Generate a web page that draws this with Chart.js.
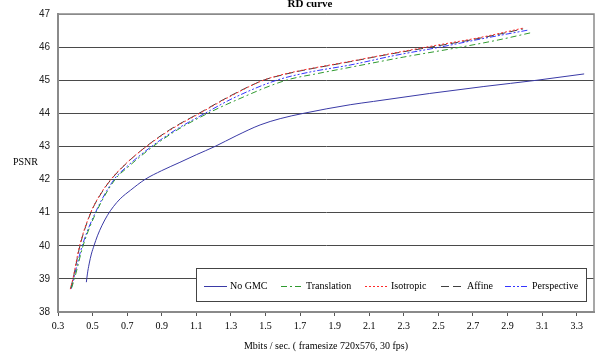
<!DOCTYPE html>
<html>
<head>
<meta charset="utf-8">
<script src="https://cdn.jsdelivr.net/npm/chart.js@4/dist/chart.umd.min.js"></script>
<style>
html,body{margin:0;padding:0;background:#fff;}
#wrap{width:602px;height:355px;position:relative;}
</style>
</head>
<body>
<div id="wrap"><canvas id="c" width="602" height="355"></canvas></div>
<script>
// ---- data ----
const xTicks = [0.3,0.5,0.7,0.9,1.1,1.3,1.5,1.7,1.9,2.1,2.3,2.5,2.7,2.9,3.1,3.3];
const yTicks = [38,39,40,41,42,43,44,45,46,47];
const seriesNames = ["No GMC","Translation","Isotropic","Affine","Perspective"];

const noGmcX = [0.464,0.470,0.480,0.493,0.508,0.528,0.555,0.586,0.620,0.660,0.720,0.802,0.900,1.005,1.100,1.208,1.330,1.469,1.585,1.720,1.990,2.125,2.450,2.763,3.070,3.343];
const noGmcY = [38.90,39.15,39.45,39.75,40.00,40.30,40.62,40.92,41.18,41.42,41.68,42.00,42.27,42.52,42.75,43.00,43.32,43.65,43.84,44.00,44.26,44.36,44.60,44.81,45.00,45.19];

const translationX = [0.378,0.395,0.445,0.520,0.630,0.710,0.850,0.990,1.167,1.314,1.620,1.800,1.990,2.300,2.630,2.850,3.040];
const translationY = [38.72,39.00,40.00,41.00,42.00,42.40,43.00,43.50,44.00,44.36,45.00,45.20,45.39,45.70,46.00,46.22,46.44];

const isotropicX = [0.371,0.386,0.425,0.489,0.550,0.605,0.696,0.812,0.950,1.120,1.310,1.488,1.590,1.700,1.990,2.200,2.450,2.750,2.995];
const isotropicY = [38.69,39.00,40.00,41.00,41.60,42.00,42.50,43.00,43.50,44.00,44.55,45.00,45.16,45.29,45.57,45.78,46.02,46.30,46.58];

const affineX = [0.372,0.387,0.427,0.490,0.552,0.607,0.698,0.810,0.945,1.115,1.305,1.488,1.590,1.700,1.990,2.200,2.455,2.750,2.990];
const affineY = [38.70,39.00,40.00,41.00,41.60,42.00,42.50,43.00,43.50,44.00,44.55,45.00,45.15,45.28,45.56,45.77,46.00,46.28,46.55];

const perspectiveX = [0.376,0.390,0.440,0.516,0.624,0.700,0.841,0.980,1.150,1.314,1.565,1.750,1.990,2.250,2.510,2.750,3.015];
const perspectiveY = [38.70,39.00,40.00,41.00,42.00,42.40,43.00,43.50,44.00,44.46,45.00,45.24,45.46,45.75,46.00,46.25,46.51];

const xs = [noGmcX, translationX, isotropicX, affineX, perspectiveX];
const ys = [noGmcY, translationY, isotropicY, affineY, perspectiveY];
const colors = ['#3a3aa6','#2f9a2f','#ff2a2a','#404040','#3434ff'];
const dashes = [[], [6,3,2,3], [2,2], [8,4], [6,2,2,2,2,2]];

const datasets = seriesNames.map((n,i)=>({
  label:n,
  data: xs[i].map((x,j)=>({x:x,y:ys[i][j]})),
  borderColor: colors[i],
  borderDash: dashes[i],
  borderWidth: 1,
  pointRadius: 0,
  showLine: true,
  fill: false,
  cubicInterpolationMode: 'monotone'
}));

const serif = "'Liberation Serif','Times New Roman',serif";
const sans = "'Liberation Sans',Arial,sans-serif";

const extras = {
  id:'extras',
  afterDraw(chart){
    const ctx = chart.ctx, a = chart.chartArea;
    ctx.save();
    // top & right border
    ctx.strokeStyle = '#8a8a8a'; ctx.lineWidth = 1.5; ctx.setLineDash([]);
    ctx.beginPath();
    ctx.moveTo(a.left, a.top); ctx.lineTo(a.right, a.top); ctx.lineTo(a.right, a.bottom);
    ctx.stroke();
    // title
    ctx.fillStyle = '#000';
    ctx.font = "bold 11px " + serif;
    ctx.textAlign = 'center'; ctx.textBaseline = 'alphabetic';
    ctx.fillText('RD curve', 310, 7);
    // PSNR
    ctx.font = "10px " + serif;
    ctx.textAlign = 'left'; ctx.textBaseline = 'middle';
    ctx.fillText('PSNR', 13, 162);
    // legend
    const bx = 196, by = 268, bw = 390, bh = 33;
    ctx.fillStyle = '#fff';
    ctx.fillRect(bx, by, bw, bh);
    ctx.strokeStyle = '#444'; ctx.lineWidth = 1;
    ctx.strokeRect(bx+0.5, by+0.5, bw, bh);
    const samples = [[204,227,230],[281,302,306],[365,388,391],[441,463,467],[505,529,532]];
    const cy = 286;
    chart.data.datasets.forEach((d,i)=>{
      const s = samples[i];
      ctx.strokeStyle = d.borderColor; ctx.lineWidth = 1;
      ctx.setLineDash(d.borderDash);
      ctx.beginPath(); ctx.moveTo(s[0], cy+0.5); ctx.lineTo(s[1], cy+0.5); ctx.stroke();
      ctx.setLineDash([]);
      ctx.fillStyle = '#000';
      ctx.font = "10px " + serif;
      ctx.textAlign = 'left'; ctx.textBaseline = 'middle';
      ctx.fillText(d.label, s[2], cy);
    });
    ctx.restore();
  }
};

new Chart(document.getElementById('c'), {
  type:'scatter',
  data:{datasets:datasets},
  plugins:[extras],
  options:{
    responsive:false,
    animation:false,
    events:[],
    layout:{padding:{top:12,right:8,left:0,bottom:0}},
    plugins:{legend:{display:false},title:{display:false},tooltip:{enabled:false}},
    scales:{
      x:{
        type:'linear', min:0.3, max:3.4,
        afterBuildTicks(scale){ scale.ticks = xTicks.map(v=>({value:v})); },
        afterFit(scale){ scale.height = 43; },
        ticks:{ autoSkip:false, maxRotation:0, padding:4, color:'#000',
          font:{family:serif,size:10},
          callback:(v)=>Number(v).toFixed(1) },
        grid:{ drawOnChartArea:false, drawTicks:true, tickLength:4, color:'#555' },
        border:{ color:'#8a8a8a', width:2 },
        title:{ display:true, text:'Mbits / sec. ( framesize 720x576, 30 fps)', color:'#000',
          font:{family:serif,size:10}, padding:{top:0,bottom:3} }
      },
      y:{
        type:'linear', min:38, max:47,
        afterBuildTicks(scale){ scale.ticks = yTicks.map(v=>({value:v})); },
        afterFit(scale){ scale.width = 58; },
        ticks:{ padding:8, color:'#222', font:{family:sans,size:10}, callback:(v)=>String(v) },
        grid:{ drawTicks:false, color:(c)=> (c.tick && (c.tick.value===47||c.tick.value===38)) ? '#8a8a8a' : '#4a4a4a', lineWidth:1 },
        border:{ color:'#8a8a8a', width:2 }
      }
    }
  }
});
</script>
</body>
</html>
